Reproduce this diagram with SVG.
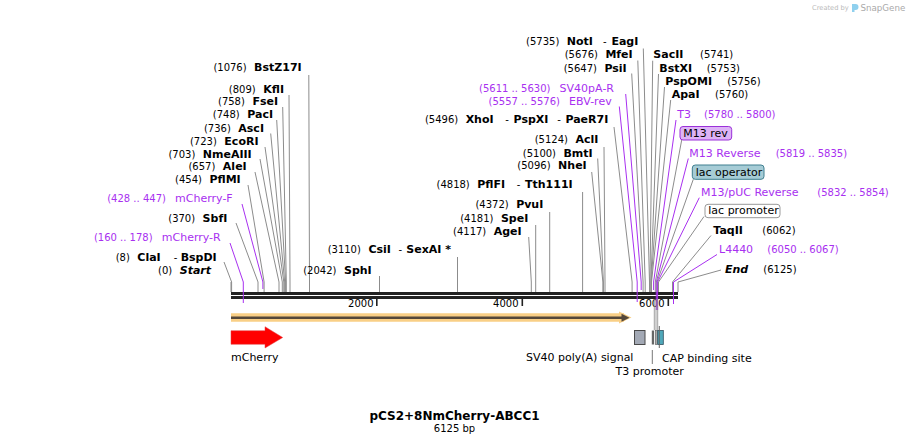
<svg xmlns="http://www.w3.org/2000/svg" width="909" height="445" viewBox="0 0 909 445">
<style>
.t{font-family:"DejaVu Sans",Verdana,"Liberation Sans",sans-serif;font-size:10px;fill:#000}
.b{font-size:11px;font-weight:bold}
.bi{font-size:11px;font-weight:bold;font-style:italic}
.p{fill:#a830f0}
.pn{font-size:11px}
.f{font-size:11px}
.ln{fill:none;stroke:#8c8c8c;stroke-width:1}
.lp{fill:none;stroke:#a830f0;stroke-width:1}
</style>
<rect width="909" height="445" fill="#fff"/>

<g id="logo">
<text class="t" x="812" y="10" style="font-size:6.7px;fill:#bbb">Created by</text>
<path d="M852,4 h3.5 a3,3 0 0 1 0,6 h-1 v2 h-2.5 z" fill="#8fd0ee"/>
<text class="t" x="860.5" y="11" style="font-size:8.7px;fill:#aaa">SnapGene</text>
</g>

<g id="backbone">
<rect x="231" y="292" width="447" height="3" fill="#222"/>
<rect x="231" y="296" width="447" height="3" fill="#222"/>
<rect x="376" y="299" width="1.6" height="7" fill="#222"/>
<rect x="521.5" y="299" width="1.6" height="7" fill="#222"/>
<rect x="667.5" y="299" width="1.6" height="7" fill="#222"/>
<text class="t" x="373.5" y="307" text-anchor="end">2000</text>
<text class="t" x="518.5" y="307" text-anchor="end">4000</text>
<text class="t" x="664.5" y="307" text-anchor="end">6000</text>
</g>

<g id="connectors">
<path class="ln" d="M231,282 V292"/>
<path class="ln" d="M224,262 L231.6,282 V292"/>
<path class="lp" d="M230,243 L243.3,282 V303"/>
<path class="ln" d="M236,223 L258,282 V292"/>
<path class="lp" d="M242,204 L262.9,282 V289"/>
<path class="ln" d="M248,185 L264.1,282 V292"/>
<path class="ln" d="M255,172 L279,282 V292"/>
<path class="ln" d="M260,159 L282.3,282 V292"/>
<path class="ln" d="M265,147 L283.8,282 V292"/>
<path class="ln" d="M270.7,133.5 L284.7,282 V292"/>
<path class="ln" d="M276.7,120 L285.6,282 V292"/>
<path class="ln" d="M282.7,107 L286.3,282 V292"/>
<path class="ln" d="M289,95 L290,282 V292"/>
<path class="ln" d="M308.8,75 L309.5,282 V292"/>
<path class="ln" d="M379.5,276 V292"/>
<path class="ln" d="M457.5,257 V292"/>
<path class="ln" d="M528.7,237 L531.3,282 V292"/>
<path class="ln" d="M535.7,225 V292"/>
<path class="ln" d="M549.7,212 V292"/>
<path class="ln" d="M582.6,192 V292"/>
<path class="ln" d="M591.7,172 L602.9,282 V292"/>
<path class="ln" d="M597.7,158.5 L603.4,282 V292"/>
<path class="ln" d="M604,147 L605,282 V292"/>
<path class="ln" d="M614,127 L632.1,282 V292"/>
<path class="lp" d="M619.3,106.5 L637.2,282 V302"/>
<path class="lp" d="M625.7,94 L641.2,282 V290"/>
<path class="ln" d="M631.7,73.5 L643.1,282 V292"/>
<path class="ln" d="M637.8,60.5 L645.2,282 V292"/>
<path class="ln" d="M643.3,48.5 L649.5,282 V292"/>
<path class="ln" d="M652.7,60.7 L650,282 V292"/>
<path class="ln" d="M658.5,74 L650.9,282 V292"/>
<path class="ln" d="M664.5,87 L651.2,282 V292"/>
<path class="ln" d="M670.7,100 L651.5,282 V292"/>
<path class="lp" d="M676,120 L653.6,282 V290"/>
<path class="ln" d="M681.7,140 L655.3,282 V292"/>
<path class="lp" d="M688.3,158.5 L656.3,282 V310"/>
<path class="ln" d="M693.3,179.3 L657,282 V292"/>
<path class="lp" d="M699.3,197.7 L657.6,282 V310"/>
<path class="ln" d="M704,216.5 L658.5,282 V292"/>
<path class="ln" d="M711,235.5 L672.5,282 V292"/>
<path class="lp" d="M717,254.5 L673.5,282 V304"/>
<path class="ln" d="M721,270 L678,282 V292"/>
<path d="M654.3,299 V330 M656,299 V330 M657.7,299 V330" fill="none" stroke="#888" stroke-width="0.8"/>
<path d="M652.3,350 V364" fill="none" stroke="#777" stroke-width="1"/>
</g>

<g id="site-start"><text class="t" x="211" y="274" text-anchor="end">(0) <tspan class="bi" dx="4.3">Start</tspan></text></g>
<g id="site-ClaI"><text class="t" x="216.7" y="260.7" text-anchor="end">(8) <tspan class="b" dx="4.3">ClaI</tspan><tspan dx="10"> - </tspan><tspan class="b">BspDI</tspan></text></g>
<g id="primer-mCherry-R"><text class="t p" x="220.7" y="240.7" text-anchor="end">(160 .. 178) <tspan class="pn" dx="6">mCherry-R</tspan></text></g>
<g id="site-SbfI"><text class="t" x="227.3" y="221.7" text-anchor="end">(370) <tspan class="b" dx="4.3">SbfI</tspan></text></g>
<g id="primer-mCherry-F"><text class="t p" x="232.7" y="202" text-anchor="end">(428 .. 447) <tspan class="pn" dx="6">mCherry-F</tspan></text></g>
<g id="site-PflMI"><text class="t" x="240.7" y="182.7" text-anchor="end">(454) <tspan class="b" dx="4.3">PflMI</tspan></text></g>
<g id="site-AleI"><text class="t" x="246.7" y="170.3" text-anchor="end">(657) <tspan class="b" dx="4.3">AleI</tspan></text></g>
<g id="site-NmeAIII"><text class="t" x="251.7" y="157.5" text-anchor="end">(703) <tspan class="b" dx="4.3">NmeAIII</tspan></text></g>
<g id="site-EcoRI"><text class="t" x="258.5" y="145" text-anchor="end">(723) <tspan class="b" dx="4.3">EcoRI</tspan></text></g>
<g id="site-AscI"><text class="t" x="264" y="131.7" text-anchor="end">(736) <tspan class="b" dx="4.3">AscI</tspan></text></g>
<g id="site-PacI"><text class="t" x="273" y="118.3" text-anchor="end">(748) <tspan class="b" dx="4.3">PacI</tspan></text></g>
<g id="site-FseI"><text class="t" x="278" y="105" text-anchor="end">(758) <tspan class="b" dx="4.3">FseI</tspan></text></g>
<g id="site-KflI"><text class="t" x="284" y="92.7" text-anchor="end">(809) <tspan class="b" dx="4.3">KflI</tspan></text></g>
<g id="site-BstZ17I"><text class="t" x="301.7" y="71" text-anchor="end">(1076) <tspan class="b" dx="4.3">BstZ17I</tspan></text></g>

<g id="site-SphI"><text class="t" x="371.7" y="274" text-anchor="end">(2042) <tspan class="b" dx="4.3">SphI</tspan></text></g>
<g id="site-CsiI"><text class="t" x="451" y="253.3" text-anchor="end">(3110) <tspan class="b" dx="4.3">CsiI</tspan><tspan dx="4.5"> - </tspan><tspan class="b" dx="1">SexAI *</tspan></text></g>
<g id="site-AgeI"><text class="t" x="521.7" y="235" text-anchor="end">(4117) <tspan class="b" dx="4.3">AgeI</tspan></text></g>
<g id="site-SpeI"><text class="t" x="528.3" y="221.7" text-anchor="end">(4181) <tspan class="b" dx="4.3">SpeI</tspan></text></g>
<g id="site-PvuI"><text class="t" x="543.3" y="208.3" text-anchor="end">(4372) <tspan class="b" dx="4.3">PvuI</tspan></text></g>
<g id="site-PflFI"><text class="t" x="572.7" y="188" text-anchor="end">(4818) <tspan class="b" dx="4.3">PflFI</tspan><tspan dx="8.5"> - </tspan><tspan class="b" dx="1.5">Tth111I</tspan></text></g>
<g id="site-NheI"><text class="t" x="586.7" y="169.3" text-anchor="end">(5096) <tspan class="b" dx="4.3">NheI</tspan></text></g>
<g id="site-BmtI"><text class="t" x="592.7" y="156.7" text-anchor="end">(5100) <tspan class="b" dx="4.3">BmtI</tspan></text></g>
<g id="site-AclI"><text class="t" x="598.3" y="143.3" text-anchor="end">(5124) <tspan class="b" dx="4.3">AclI</tspan></text></g>
<g id="site-XhoI"><text class="t" x="608.3" y="123.3" text-anchor="end">(5496) <tspan class="b" dx="4.3">XhoI</tspan><tspan dx="8.5"> - </tspan><tspan class="b" dx="1.5">PspXI</tspan><tspan dx="5.5"> - </tspan><tspan class="b" dx="1.5">PaeR7I</tspan></text></g>
<g id="primer-EBV-rev"><text class="t p" x="611.7" y="105" text-anchor="end">(5557 .. 5576) <tspan class="pn" dx="6">EBV-rev</tspan></text></g>
<g id="primer-SV40pA-R"><text class="t p" x="614" y="92.3" text-anchor="end">(5611 .. 5630) <tspan class="pn" dx="6">SV40pA-R</tspan></text></g>
<g id="site-PsiI"><text class="t" x="626.7" y="71.7" text-anchor="end">(5647) <tspan class="b" dx="4.3">PsiI</tspan></text></g>
<g id="site-MfeI"><text class="t" x="632.7" y="58.3" text-anchor="end">(5676) <tspan class="b" dx="4.3">MfeI</tspan></text></g>
<g id="site-NotI"><text class="t" x="638.3" y="45" text-anchor="end">(5735) <tspan class="b" dx="4.3">NotI</tspan><tspan dx="7"> - </tspan><tspan class="b" dx="1.5">EagI</tspan></text></g>

<g id="site-SacII"><text class="t" x="653.3" y="58.3"><tspan class="b">SacII</tspan><tspan x="700">(5741)</tspan></text></g>
<g id="site-BstXI"><text class="t" x="659.3" y="71.7"><tspan class="b">BstXI</tspan><tspan x="706.7">(5753)</tspan></text></g>
<g id="site-PspOMI"><text class="t" x="665.3" y="85"><tspan class="b">PspOMI</tspan><tspan x="727.3">(5756)</tspan></text></g>
<g id="site-ApaI"><text class="t" x="671.7" y="97.7"><tspan class="b">ApaI</tspan><tspan x="715">(5760)</tspan></text></g>
<g id="primer-T3"><text class="t p" x="677.3" y="117.7"><tspan class="pn">T3</tspan><tspan x="704">(5780 .. 5800)</tspan></text></g>
<g id="feature-M13rev"><rect x="680" y="126.5" width="51.7" height="13.5" rx="3" fill="#ddb3f6" stroke="#9b30d9" stroke-width="1"/><text class="t f" x="683.3" y="137.3">M13 rev</text></g>
<g id="primer-M13Reverse"><text class="t p" x="689.3" y="156.7"><tspan class="pn">M13 Reverse</tspan><tspan x="775.7">(5819 .. 5835)</tspan></text></g>
<g id="feature-lacoperator"><rect x="692.3" y="165" width="71.7" height="14.3" rx="3" fill="#a6ccd6" stroke="#3f7f8f" stroke-width="1"/><text class="t f" x="695.7" y="176">lac operator</text></g>
<g id="primer-M13pUCReverse"><text class="t p" x="701" y="195.7"><tspan class="pn">M13/pUC Reverse</tspan><tspan x="817.3">(5832 .. 5854)</tspan></text></g>
<g id="feature-lacpromoter"><rect x="705" y="204.3" width="75" height="13.4" rx="3" fill="#fff" stroke="#999" stroke-width="1"/><text class="t f" x="708.3" y="214.3">lac promoter</text></g>
<g id="site-TaqII"><text class="t" x="713.3" y="234"><tspan class="b">TaqII</tspan><tspan x="762.3">(6062)</tspan></text></g>
<g id="primer-L4440"><text class="t p" x="719" y="253.3"><tspan class="pn">L4440</tspan><tspan x="767.3">(6050 .. 6067)</tspan></text></g>
<g id="site-end"><text class="t" x="725" y="273.3"><tspan class="bi">End</tspan><tspan x="763.3">(6125)</tspan></text></g>

<g id="orf-arrow">
<path d="M231,317.5 H624" stroke="#f9cf86" stroke-width="8.5" fill="none"/>
<path d="M619,311.5 L631.5,317.5 L619,323.5 Z" fill="#f9cf86"/>
<path d="M231,317.8 H623" stroke="#55483a" stroke-width="2.4" fill="none"/>
<path d="M621.5,313.8 L629.5,317.8 L621.5,321.8 Z" fill="#55483a"/>
</g>

<g id="feature-mCherry">
<path d="M231,330.7 H265 V326.7 L282.7,337.5 L265,348 V344.3 H231 Z" fill="#ff0000" stroke="#e04040" stroke-width="0.5"/>
<text class="t f" x="231" y="361">mCherry</text>
</g>
<g id="feature-SV40polyA">
<rect x="634.5" y="330.5" width="10.5" height="14" fill="#a3a9b5" stroke="#4a4a4a" stroke-width="1"/>
<text class="t f" x="526" y="361">SV40 poly(A) signal</text>
</g>
<g id="feature-T3promoter">
<rect x="651.8" y="330.5" width="2.2" height="14" fill="#666"/>
<text class="t f" x="615.5" y="374.7">T3 promoter</text>
</g>
<g id="feature-lacsmall">
<rect x="655.2" y="330.5" width="2.3" height="14" fill="#aaa" stroke="#555" stroke-width="0.6"/>
</g>
<g id="feature-CAP">
<rect x="657.8" y="330.5" width="5.5" height="14" fill="#4fa8ba" stroke="#2f4f5f" stroke-width="0.8"/>
<path d="M659.3,326 V348" stroke="#666" stroke-width="1"/>
<text class="t f" x="662" y="361.5">CAP binding site</text>
</g>

<g id="title">
<text class="t" x="454.5" y="420" text-anchor="middle" style="font-size:12px;font-weight:bold">pCS2+8NmCherry-ABCC1</text>
<text class="t" x="454.5" y="431.7" text-anchor="middle">6125 bp</text>
</g>
</svg>
